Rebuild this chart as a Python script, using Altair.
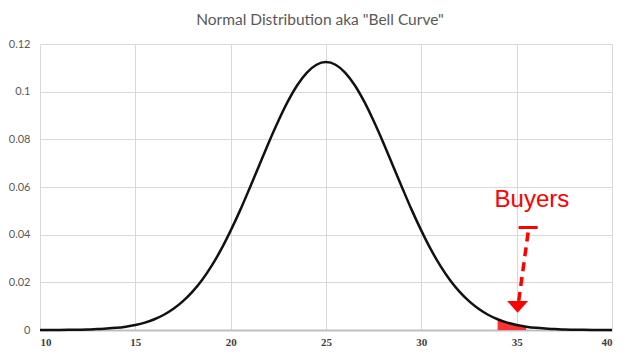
import altair as alt
import pandas as pd

# Curve values
x_vals = [10, 10.5, 11, 11.5, 12, 12.5, 13, 13.5, 14, 14.5, 15, 15.5, 16, 16.5, 17, 17.5,
          18, 18.5, 19, 19.5, 20, 20.5, 21, 21.5, 22, 22.5, 23, 23.5, 24, 24.5, 25, 25.5,
          26, 26.5, 27, 27.5, 28, 28.5, 29, 29.5, 30, 30.5, 31, 31.5, 32, 32.5, 33, 33.5,
          34, 34.5, 35, 35.5, 36, 36.5, 37, 37.5, 38, 38.5, 39, 39.5, 40]
density = [0.00001, 0.00003, 0.00005, 0.00008, 0.00014, 0.0002, 0.0004, 0.0006, 0.0009, 0.0014,
           0.0021, 0.0031, 0.0045, 0.0064, 0.0089, 0.0121, 0.0161, 0.0210, 0.0269, 0.0338,
           0.0417, 0.0503, 0.0596, 0.0691, 0.0787, 0.0877, 0.0959, 0.1028, 0.1080, 0.1113,
           0.1124,
           0.1113, 0.1080, 0.1028, 0.0959, 0.0877, 0.0787, 0.0691, 0.0596, 0.0503, 0.0417,
           0.0338, 0.0269, 0.0210, 0.0161, 0.0121, 0.0089, 0.0064, 0.0045, 0.0031, 0.0021,
           0.0014, 0.0009, 0.0006, 0.0004, 0.0002, 0.00014, 0.00008, 0.00005, 0.00003, 0.00001]

x_ticks = [10, 15, 20, 25, 30, 35, 40]
y_ticks = [0, 0.02, 0.04, 0.06, 0.08, 0.1, 0.12]

# Annotation (in data units)
buyers_label = ["Buyers"]
buyers_x = [35.8]
buyers_y = [0.0545]
bar_x = [35.1]
bar_x2 = [36.1]
bar_y = [0.0430]
dash_x = [35.6]
dash_y = [0.0409]
dash_x2 = [35.1]
dash_y2 = [0.0118]
head_x = [35.05]
head_y = [0.0097]
shade_from = 33.6
shade_to = 35.8

df = pd.DataFrame({"x": x_vals, "y": density})

xs = alt.Scale(domain=[10, 40], nice=False)
ys = alt.Scale(domain=[0, 0.12], nice=False)

x_axis = alt.Axis(values=x_ticks, grid=True, gridColor="#d9d9d9", ticks=False,
                  domainColor="#bfbfbf", domainWidth=2, labelFont="Liberation Serif",
                  labelFontWeight="bold", labelFontSize=11, labelColor="#404040",
                  labelPadding=6, title=None)
y_axis = alt.Axis(values=y_ticks, grid=True, gridColor="#d9d9d9", ticks=False,
                  domain=False, format=".2~f", labelFont="Lato", labelFontSize=11,
                  labelColor="#595959", labelPadding=10, title=None)

shade = alt.Chart(df).transform_filter(
    (alt.datum.x >= shade_from) & (alt.datum.x <= shade_to)
).mark_area(color="#ff0000", opacity=0.8, interpolate="monotone").encode(
    x=alt.X("x:Q", scale=xs, axis=x_axis),
    y=alt.Y("y:Q", scale=ys, axis=y_axis),
)

curve = alt.Chart(df).mark_line(color="#111111", strokeWidth=2.5, interpolate="monotone").encode(
    x=alt.X("x:Q", scale=xs, axis=x_axis),
    y=alt.Y("y:Q", scale=ys, axis=y_axis),
)

ann = pd.DataFrame({"t": buyers_label, "x": buyers_x, "y": buyers_y})
text = alt.Chart(ann).mark_text(color="#ff0000", font="Liberation Sans", fontSize=24,
                                align="center", baseline="middle").encode(
    x=alt.X("x:Q", scale=xs), y=alt.Y("y:Q", scale=ys), text="t:N")

bar_df = pd.DataFrame({"x": bar_x, "x2": bar_x2, "y": bar_y})
bar = alt.Chart(bar_df).mark_rule(color="#ff0000", strokeWidth=3).encode(
    x=alt.X("x:Q", scale=xs), x2="x2:Q", y=alt.Y("y:Q", scale=ys))

dash_df = pd.DataFrame({"x": dash_x, "y": dash_y, "x2": dash_x2, "y2": dash_y2})
dash = alt.Chart(dash_df).mark_rule(color="#ff0000", strokeWidth=3.5, strokeDash=[9, 6]).encode(
    x=alt.X("x:Q", scale=xs), y=alt.Y("y:Q", scale=ys), x2="x2:Q", y2="y2:Q")

head_df = pd.DataFrame({"x": head_x, "y": head_y})
head = alt.Chart(head_df).mark_point(shape="M-1,-0.55L1,-0.55L0,0.55Z", filled=True,
                                     color="#ff0000", opacity=1, size=440).encode(
    x=alt.X("x:Q", scale=xs), y=alt.Y("y:Q", scale=ys))

chart = alt.layer(shade, curve, text, bar, dash, head).properties(
    width=572, height=286,
    title=alt.TitleParams('Normal Distribution aka "Bell Curve"', font="Lato", fontSize=15.5,
                          fontWeight="normal", color="#595959", anchor="middle", offset=10,
                          dx=-6),
    autosize=alt.AutoSizeParams(type="none"),
    padding={"left": 32, "top": 36, "right": 23, "bottom": 20},
).configure_view(stroke=None)

chart.save("out.html", embed_options={"renderer": "svg", "actions": False})
